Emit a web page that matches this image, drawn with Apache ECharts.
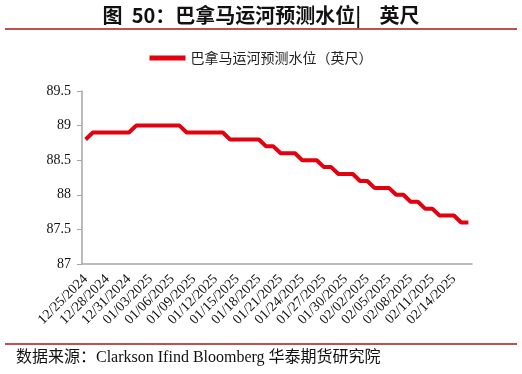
<!DOCTYPE html>
<html>
<head>
<meta charset="utf-8">
<script src="https://cdn.jsdelivr.net/npm/echarts@6/dist/echarts.min.js"></script>
<style>
html,body{margin:0;padding:0;background:#fff;}
#c{width:522px;height:374px;}
</style>
</head>
<body>
<div id="c"></div>
<script>
const titleText = '图  50：巴拿马运河预测水位|    英尺';
const seriesName = '巴拿马运河预测水位（英尺）';
const sourceText = '数据来源：Clarkson Ifind Bloomberg 华泰期货研究院';
const startDate = [2024, 12, 25];
const dayCount = 54;
const levels = [
  88.8,
  88.9, 88.9, 88.9, 88.9, 88.9, 88.9,
  89.0, 89.0, 89.0, 89.0, 89.0, 89.0, 89.0,
  88.9, 88.9, 88.9, 88.9, 88.9, 88.9,
  88.8, 88.8, 88.8, 88.8, 88.8,
  88.7, 88.7,
  88.6, 88.6, 88.6,
  88.5, 88.5, 88.5,
  88.4, 88.4,
  88.3, 88.3, 88.3,
  88.2, 88.2,
  88.1, 88.1, 88.1,
  88.0, 88.0,
  87.9, 87.9,
  87.8, 87.8,
  87.7, 87.7, 87.7,
  87.6, 87.6
];
const yMin = 87, yMax = 89.5, yStep = 0.5;

function pad(n){return (n<10?'0':'')+n;}
const dates = [];
for (let i = 0; i < dayCount; i++) {
  const d = new Date(Date.UTC(startDate[0], startDate[1]-1, startDate[2] + i));
  dates.push(pad(d.getUTCMonth()+1) + '/' + pad(d.getUTCDate()) + '/' + d.getUTCFullYear());
}

const chart = echarts.init(document.getElementById('c'), null, {renderer:'canvas'});
const serif = '"Liberation Serif", "Noto Sans CJK SC", serif';
chart.setOption({
  animation: false,
  backgroundColor: '#fff',
  graphic: [
    {type:'text', left:'center', top:5, style:{text:titleText, font:'bold 20px "Noto Sans CJK SC", sans-serif', fill:'#111'}},
    {type:'rect', shape:{x:5, y:28, width:512, height:2}, style:{fill:'#C0504D'}},
    {type:'rect', shape:{x:5, y:343, width:512, height:2}, style:{fill:'#C0504D'}},
    {type:'text', left:16, top:350, style:{text:sourceText, font:'16px ' + serif, fill:'#111'}}
  ],
  legend: {
    top: 46, left: 'center',
    icon: 'rect', itemWidth: 36, itemHeight: 5, itemGap: 10,
    textStyle: {fontSize: 14, color: '#222', fontFamily: '"Noto Sans CJK SC", sans-serif'},
    data: [seriesName]
  },
  grid: {left: 82, right: 50, top: 91, bottom: 110},
  xAxis: {
    type: 'category',
    data: dates,
    boundaryGap: true,
    axisLine: {lineStyle: {color: '#A6A6A6', width: 1.5}},
    axisTick: {interval: 0, length: 4, lineStyle: {color: '#A6A6A6'}},
    axisLabel: {interval: 2, rotate: 45, fontSize: 14, color: '#111', fontFamily: serif, margin: 13}
  },
  yAxis: {
    type: 'value',
    min: yMin, max: yMax, interval: yStep,
    axisLine: {show: true, lineStyle: {color: '#A6A6A6', width: 1.5}},
    axisTick: {show: true, length: 5, lineStyle: {color: '#A6A6A6'}},
    splitLine: {show: false},
    axisLabel: {fontSize: 14, color: '#111', fontFamily: serif, margin: 11}
  },
  series: [{
    name: seriesName,
    type: 'line',
    data: levels,
    showSymbol: false,
    symbol: 'none',
    lineStyle: {color: '#E3000F', width: 4},
    itemStyle: {color: '#E3000F'}
  }]
});
</script>
</body>
</html>
